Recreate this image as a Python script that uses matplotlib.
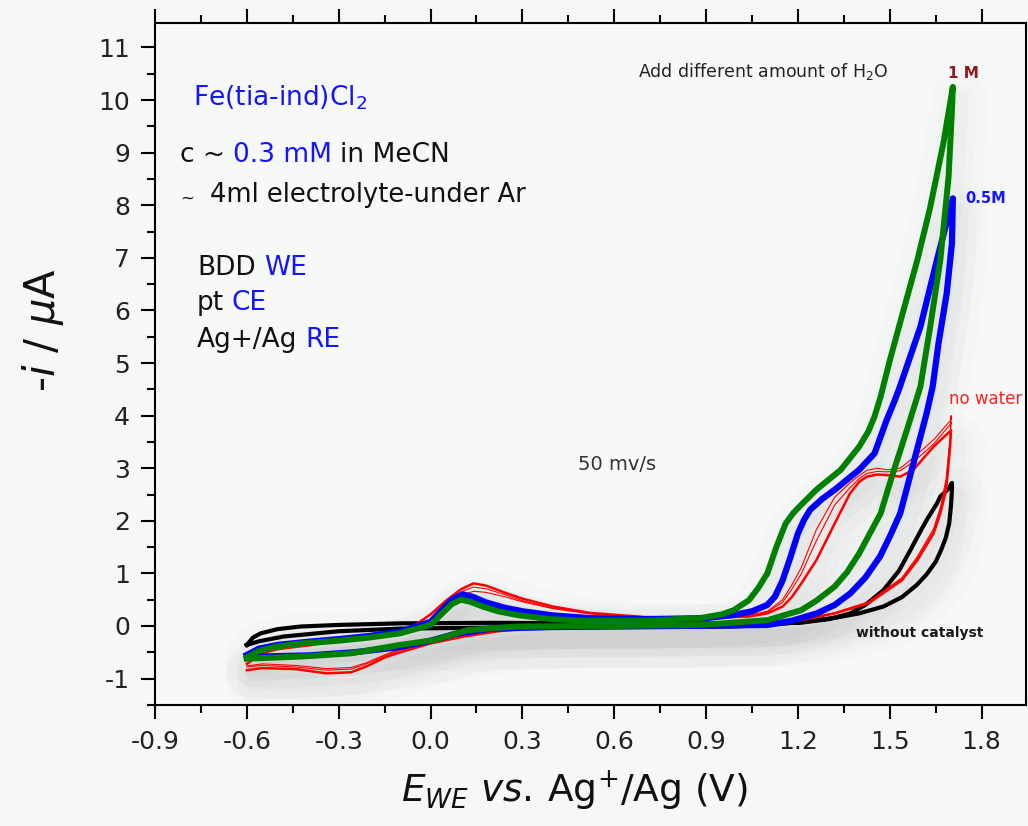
import matplotlib
matplotlib.use("Agg")
import matplotlib.pyplot as plt
from matplotlib.ticker import MultipleLocator, FormatStrFormatter
from matplotlib.transforms import offset_copy

# ---- data (E in V, -i in uA) ----
# green: 1 M water
green_fwd_E = [-0.60, -0.56, -0.50, -0.42, -0.30, -0.20, -0.10, 0.00, 0.04, 0.07, 0.10, 0.13, 0.17,
               0.22, 0.28, 0.39, 0.50, 0.70, 0.88, 0.95, 0.99, 1.04, 1.07, 1.10, 1.13, 1.16, 1.185,
               1.21, 1.26, 1.30, 1.34, 1.40, 1.43, 1.45, 1.47, 1.50, 1.53, 1.59, 1.63, 1.675, 1.706]
green_fwd_i = [-0.60, -0.47, -0.39, -0.33, -0.28, -0.22, -0.14, 0.02, 0.25, 0.42, 0.50, 0.46, 0.37,
               0.28, 0.21, 0.13, 0.10, 0.10, 0.15, 0.22, 0.30, 0.49, 0.72, 1.00, 1.51, 1.95, 2.15,
               2.30, 2.59, 2.78, 2.97, 3.41, 3.70, 3.98, 4.36, 5.05, 5.69, 6.96, 7.91, 9.18, 10.25]
green_rev_E = [1.703, 1.692, 1.665, 1.632, 1.60, 1.556, 1.51, 1.47, 1.40, 1.36, 1.32, 1.26, 1.21,
               1.10, 0.88, 0.60, 0.28, 0.12, 0.01, -0.10, -0.26, -0.42, -0.55, -0.60]
green_rev_i = [9.81, 8.54, 6.96, 5.69, 4.55, 3.73, 2.90, 2.14, 1.38, 1.02, 0.75, 0.48, 0.30,
               0.11, 0.02, 0.00, -0.01, -0.08, -0.27, -0.36, -0.52, -0.58, -0.61, -0.62]

# blue: 0.5 M water
blue_fwd_E = [-0.60, -0.56, -0.50, -0.40, -0.30, -0.20, -0.10, 0.00, 0.04, 0.07, 0.105, 0.14, 0.18,
              0.24, 0.30, 0.40, 0.52, 0.70, 0.90, 0.99, 1.05, 1.10, 1.125, 1.15, 1.175, 1.20, 1.22,
              1.24, 1.28, 1.32, 1.40, 1.45, 1.49, 1.51, 1.53, 1.60, 1.654, 1.706]
blue_fwd_i = [-0.55, -0.43, -0.36, -0.30, -0.25, -0.19, -0.11, 0.08, 0.32, 0.50, 0.60, 0.55, 0.45,
              0.35, 0.28, 0.20, 0.15, 0.13, 0.15, 0.21, 0.28, 0.40, 0.56, 0.87, 1.30, 1.76, 2.02,
              2.21, 2.42, 2.59, 2.97, 3.28, 3.92, 4.20, 4.50, 5.69, 6.96, 8.13]
blue_rev_E = [1.703, 1.686, 1.659, 1.640, 1.62, 1.577, 1.534, 1.50, 1.468, 1.42, 1.371, 1.32, 1.262,
              1.18, 1.10, 0.80, 0.40, 0.20, 0.08, 0.00, -0.10, -0.25, -0.40, -0.55, -0.60]
blue_rev_i = [7.28, 6.33, 5.37, 4.55, 4.04, 3.09, 2.14, 1.70, 1.32, 0.92, 0.62, 0.40, 0.24,
              0.10, 0.02, 0.00, -0.02, -0.05, -0.15, -0.28, -0.40, -0.50, -0.56, -0.58, -0.58]

# red: no water, three cycles
red_fwd_E = [-0.60, -0.55, -0.50, -0.40, -0.30, -0.20, -0.10, -0.05, 0.00, 0.05, 0.10, 0.14, 0.18,
             0.24, 0.30, 0.40, 0.52, 0.70, 0.90, 1.04, 1.10, 1.15, 1.18, 1.21, 1.26, 1.32, 1.37,
             1.40, 1.425, 1.46, 1.49, 1.534, 1.577, 1.643, 1.70]
red1_fwd_i = [-0.72, -0.52, -0.44, -0.37, -0.29, -0.21, -0.11, 0.02, 0.22, 0.48, 0.70, 0.81, 0.77,
              0.64, 0.52, 0.37, 0.25, 0.17, 0.15, 0.18, 0.24, 0.37, 0.55, 0.80, 1.25, 1.95, 2.52,
              2.74, 2.84, 2.88, 2.87, 2.84, 2.97, 3.41, 3.72]
red2_fwd_i = [-0.66, -0.48, -0.41, -0.35, -0.28, -0.20, -0.10, 0.03, 0.22, 0.45, 0.65, 0.74, 0.71,
              0.60, 0.48, 0.34, 0.24, 0.17, 0.16, 0.20, 0.28, 0.50, 0.78, 1.10, 1.83, 2.45, 2.72,
              2.86, 2.96, 3.00, 2.97, 3.00, 3.20, 3.54, 3.92]
red3_fwd_i = [-0.62, -0.46, -0.40, -0.34, -0.27, -0.19, -0.10, 0.03, 0.22, 0.42, 0.58, 0.66, 0.64,
              0.56, 0.46, 0.33, 0.23, 0.17, 0.16, 0.19, 0.27, 0.45, 0.70, 0.98, 1.62, 2.30, 2.63,
              2.80, 2.90, 2.94, 2.93, 2.95, 3.12, 3.46, 3.85]
red_rev_E = [1.70, 1.697, 1.684, 1.665, 1.643, 1.590, 1.540, 1.430, 1.320, 1.210, 1.044, 0.70,
             0.39, 0.22, 0.11, 0.00, -0.11, -0.15, -0.21, -0.26, -0.34, -0.44, -0.55, -0.60]
red1_rev_i = [3.72, 3.41, 2.59, 2.14, 1.76, 1.25, 0.87, 0.43, 0.24, 0.11, 0.02, 0.00,
              -0.01, -0.10, -0.20, -0.33, -0.52, -0.60, -0.77, -0.88, -0.90, -0.82, -0.80, -0.84]
red2_rev_i = [4.00, 3.60, 2.80, 2.25, 1.85, 1.32, 0.92, 0.46, 0.25, 0.12, 0.03, 0.00,
              -0.01, -0.09, -0.18, -0.30, -0.46, -0.55, -0.70, -0.79, -0.81, -0.75, -0.72, -0.76]
red3_rev_i = [3.88, 3.50, 2.70, 2.20, 1.80, 1.29, 0.90, 0.45, 0.25, 0.12, 0.03, 0.00,
              -0.01, -0.09, -0.19, -0.31, -0.48, -0.57, -0.72, -0.82, -0.84, -0.78, -0.75, -0.78]

# black: without catalyst
black_fwd_E = [-0.60, -0.58, -0.555, -0.50, -0.425, -0.30, -0.10, 0.20, 0.60, 1.00, 1.207, 1.30,
               1.371, 1.42, 1.479, 1.53, 1.567, 1.60, 1.621, 1.654, 1.665, 1.690, 1.703]
black_fwd_i = [-0.36, -0.22, -0.14, -0.06, -0.01, 0.02, 0.05, 0.06, 0.05, 0.05, 0.06, 0.13,
               0.24, 0.40, 0.68, 1.05, 1.44, 1.80, 2.02, 2.33, 2.46, 2.60, 2.72]
black_rev_E = [1.703, 1.700, 1.694, 1.683, 1.668, 1.650, 1.620, 1.588, 1.540, 1.479, 1.400, 1.316,
               1.15, 0.99, 0.60, 0.20, -0.10, -0.30, -0.48, -0.56, -0.60]
black_rev_i = [2.60, 2.30, 1.95, 1.68, 1.45, 1.22, 0.98, 0.78, 0.55, 0.37, 0.24, 0.15,
               0.04, -0.01, -0.02, -0.03, -0.05, -0.10, -0.20, -0.29, -0.36]

x_ticks = [-0.9, -0.6, -0.3, 0.0, 0.3, 0.6, 0.9, 1.2, 1.5, 1.8]
y_ticks = [-1, 0, 1, 2, 3, 4, 5, 6, 7, 8, 9, 10, 11]

BLUE = "#1414ff"

plt.rcParams["font.family"] = ["DejaVu Sans"]
plt.rcParams["mathtext.fontset"] = "dejavusans"
plt.rcParams["axes.unicode_minus"] = False

fig = plt.figure(figsize=(10.28, 8.26), dpi=100, facecolor="#f5f7f8")
ax = fig.add_axes([0.1508, 0.1465, 0.8473, 0.826])
ax.set_facecolor("#f7f8f8")

curves = [
    (black_fwd_E + black_rev_E, black_fwd_i + black_rev_i, "black", 3.0, 3),
    (red_fwd_E + red_rev_E, red3_fwd_i + red3_rev_i, "red", 0.8, 4),
    (red_fwd_E + red_rev_E, red2_fwd_i + red2_rev_i, "red", 0.8, 4),
    (red_fwd_E + red_rev_E, red1_fwd_i + red1_rev_i, "red", 1.8, 4),
    (blue_fwd_E + blue_rev_E, blue_fwd_i + blue_rev_i, "#0000ff", 4.5, 5),
    (green_fwd_E + green_rev_E, green_fwd_i + green_rev_i, "#008000", 4.3, 6),
]

# faint grey shadow under the curves (one per colour)
shadow = offset_copy(ax.transData, fig=fig, x=5, y=-10, units="points")
for k in [0, 3, 4, 5]:
    xs, ys = curves[k][0], curves[k][1]
    for w, a in [(40, 0.010), (24, 0.012), (12, 0.014)]:
        ax.plot(xs, ys, color="k", lw=w, alpha=a, transform=shadow, zorder=1,
                solid_capstyle="round", solid_joinstyle="round")

for xs, ys, c, lw, z in curves:
    ax.plot(xs, ys, color=c, lw=lw, zorder=z, solid_joinstyle="round")

ax.set_xlim(-0.9, 1.945)
ax.set_ylim(-1.502, 11.47)
ax.set_xticks(x_ticks)
ax.set_yticks(y_ticks)
ax.xaxis.set_major_formatter(FormatStrFormatter("%.1f"))
ax.xaxis.set_minor_locator(MultipleLocator(0.15))
ax.yaxis.set_minor_locator(MultipleLocator(0.5))
ax.tick_params(which="both", direction="out", width=1.5, top=True, right=False,
               labelsize=18, labelcolor="#222222")
ax.tick_params(which="major", length=10)
ax.tick_params(which="minor", length=5.5)
ax.tick_params(axis="x", pad=8)
ax.tick_params(axis="y", pad=8)
for s in ax.spines.values():
    s.set_linewidth(1.5)

ax.set_xlabel(r"$E_{WE}$ $vs.\,$Ag$^{+}$/Ag (V)", fontsize=27, color="#111111")
ax.xaxis.set_label_coords(0.482, -0.093)
ax.set_ylabel(r"-$i$ / $\mu$A", fontsize=30, color="#111111")
ax.yaxis.set_label_coords(-0.102, 0.549)


def text_row(x, y, pieces, size, gap):
    prev = ax.text(x, y, pieces[0][0], color=pieces[0][1], fontsize=size, va="baseline", ha="left")
    for s, c in pieces[1:]:
        prev = ax.annotate(s, xy=(1, 0), xycoords=prev, xytext=(gap, 0), textcoords="offset points",
                           color=c, fontsize=size, va="bottom", ha="left")


ax.text(-0.775, 9.905, r"Fe(tia-ind)Cl$_2$", color=BLUE, fontsize=19, va="baseline")
text_row(-0.820, 8.83, [("c ~", "#111111"), ("0.3 mM", BLUE), ("in MeCN", "#111111")], 19, 6)
ax.text(-0.817, 8.04, "~", color="#111111", fontsize=12, va="baseline")
ax.text(-0.719, 8.07, "4ml electrolyte-under Ar", color="#111111", fontsize=18.5, va="baseline")
text_row(-0.762, 6.67, [("BDD", "#111111"), ("WE", BLUE)], 19, 6)
text_row(-0.765, 6.01, [("pt", "#111111"), ("CE", BLUE)], 19, 6)
text_row(-0.765, 5.31, [("Ag+/Ag", "#111111"), ("RE", BLUE)], 19, 6)

ax.text(0.679, 10.44, r"Add different amount of H$_2$O", color="#222222", fontsize=12.5,
        va="baseline")
ax.text(1.691, 10.41, "1 M", color="#8e1b1b", fontsize=11, fontweight="bold", va="baseline")
ax.text(1.746, 8.05, "0.5M", color=BLUE, fontsize=10.5, fontweight="bold", va="baseline")
ax.text(1.692, 4.23, "no water", color="#ff2020", fontsize=12, va="baseline")
ax.text(1.390, -0.20, "without catalyst", color="#1a1a1a", fontsize=10, fontweight="bold",
        va="baseline")
ax.text(0.482, 2.97, "50 mv/s", color="#333333", fontsize=14, va="baseline")

fig.savefig("out.png", dpi=100, facecolor=fig.get_facecolor())
